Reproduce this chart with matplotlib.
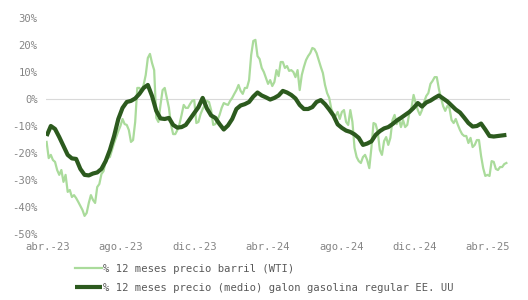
import matplotlib
matplotlib.use("Agg")
import matplotlib.pyplot as plt
import pandas as pd

# % change over 12 months
start_date = "2023-03-31"

# WTI barrel price: twice-weekly observations
wti_pct = [
    -15.9, -21.9, -20.7, -22.6, -23.3, -26.3, -28.1, -26.3, -30.7, -28.1,
    -34.4, -33.7, -36.3, -35.6, -36.7, -38.1, -39.6, -41.1, -43.3, -42.2,
    -38.5, -35.6, -37.4, -38.5, -32.6, -31.5, -27.8, -26.7, -23.0, -21.9,
    -21.5, -18.9, -16.3, -14.1, -11.9, -10.0, -7.4, -9.3, -9.6, -11.5,
    -15.9, -15.2, -8.5, 4.1, 4.1, 3.0, 5.2, 8.9, 15.2, 16.7,
    13.3, 10.7, -7.0, -8.5, -2.2, 3.3, 4.1, 0.4, -3.3, -9.6,
    -13.0, -13.0, -11.5, -9.3, -5.9, -2.2, -3.3, -3.3, -1.9, -0.7,
    -0.4, -8.9, -8.5, -5.6, -3.7, -2.2, -0.7, -1.1, -4.1, -9.6,
    -9.3, -7.8, -5.9, -3.3, -1.5, -1.9, -2.2, -0.7, 0.4, 1.9,
    3.3, 5.2, 3.0, 1.9, 4.1, 4.1, 7.0, 16.3, 21.5, 21.9,
    15.9, 14.8, 11.5, 10.0, 7.8, 5.6, 7.0, 4.8, 6.3, 10.7,
    8.5, 13.7, 13.7, 11.5, 12.2, 10.4, 10.7, 10.0, 8.1, 10.7,
    3.3, 8.9, 11.9, 14.4, 15.9, 17.0, 18.9, 18.5, 17.0, 14.4,
    11.9, 9.6, 5.2, 2.2, 0.4, -3.7, -5.6, -6.3, -4.8, -7.4,
    -4.8, -4.1, -8.5, -9.6, -4.1, -8.5, -18.1, -21.5, -23.0, -23.7,
    -21.5, -20.7, -22.6, -25.6, -18.1, -8.9, -9.3, -12.2, -18.9, -20.7,
    -15.6, -14.1, -17.0, -14.4, -7.8, -5.9, -9.3, -7.0, -10.4, -7.8,
    -10.4, -9.6, -5.2, -3.3, 1.5, -1.5, -4.1, -5.9, -4.1, -1.1,
    1.1, 2.2, 5.6, 6.7, 8.1, 8.1, 3.7, 0.4, -2.6, -4.4,
    -2.6, -3.3, -7.8, -8.9, -7.4, -9.6, -11.5, -13.0, -13.7, -13.7,
    -16.3, -14.4, -17.8, -17.0, -15.2, -15.2, -21.1, -25.6, -28.5, -28.1,
    -28.5, -23.0, -23.3, -25.9, -26.3, -25.2, -25.2, -24.1,
    -23.7,
]

# US regular gasoline (average) price per gallon: weekly observations
gasoline_pct = [
    -13.7, -10.0, -11.1, -14.1, -17.4, -20.7, -22.0, -22.2, -25.9, -28.1,
    -28.3, -27.6, -27.2, -25.9, -23.0, -18.9, -13.7, -7.4, -3.3, -1.1,
    -0.7, 0.2, 1.9, 4.1, 5.2, 1.1, -4.4, -7.2, -7.4, -7.0,
    -9.6, -10.6, -10.4, -9.6, -7.4, -5.2, -3.0, 0.4, -3.5, -6.1,
    -7.0, -9.3, -11.3, -9.8, -7.4, -3.7, -2.4, -1.9, -1.1, 0.9,
    2.4, 1.3, 0.6, -0.2, 0.4, 1.3, 3.0, 2.4, 1.5, 0.2,
    -2.2, -3.7, -3.7, -3.0, -1.1, -0.4, -1.9, -3.9, -6.1, -9.4,
    -10.7, -11.7, -12.2, -13.1, -14.4, -17.0, -16.5, -15.7, -13.3, -11.9,
    -10.9, -10.4, -9.3, -8.0, -7.0, -5.9, -4.8, -3.3, -1.5, -2.8,
    -1.3, -0.6, 0.4, 1.3, 0.2, -0.9, -2.4, -3.9, -5.0, -6.9,
    -8.9, -10.2, -10.0, -9.1, -11.3, -13.7, -13.9, -13.7, -13.5, -13.3,
]

tick_dates = ["2023-04-01", "2023-08-01", "2023-12-01", "2024-04-01",
              "2024-08-01", "2024-12-01", "2025-04-01"]
tick_labels = ["abr.-23", "ago.-23", "dic.-23", "abr.-24",
               "ago.-24", "dic.-24", "abr.-25"]
y_ticks = [-50, -40, -30, -20, -10, 0, 10, 20, 30]

series_names = ["% 12 meses precio barril (WTI)",
                "% 12 meses precio (medio) galon gasolina regular EE. UU"]

wti_dates = pd.date_range(start_date, periods=len(wti_pct), freq="84h")
gas_dates = pd.date_range(start_date, periods=len(gasoline_pct), freq="7D")

LIGHT = "#aadb9b"
DARK = "#2c5a1e"
TICK_COLOR = "#858585"
LEG_COLOR = "#595959"
FONT = "DejaVu Sans Mono"

fig = plt.figure(figsize=(5.28, 3.0), dpi=100)
ax = fig.add_axes([46 / 528, 66 / 300, 464 / 528, 216 / 300])

ax.axhline(0, color="#d9d9d9", lw=0.8, zorder=1)
l1, = ax.plot(wti_dates, wti_pct, color=LIGHT, lw=1.6, zorder=2, label=series_names[0])
l2, = ax.plot(gas_dates, gasoline_pct, color=DARK, lw=3.0, zorder=3, label=series_names[1],
              solid_capstyle="butt")

ax.set_ylim(-50, 30)
ax.set_yticks(y_ticks)
ax.set_yticklabels([f"{v}%" for v in y_ticks], family=FONT, fontsize=7.6, color=TICK_COLOR)
ax.set_xlim(pd.Timestamp("2023-03-30"), pd.Timestamp("2025-05-08"))
ax.set_xticks(pd.to_datetime(tick_dates))
ax.set_xticklabels(tick_labels, family=FONT, fontsize=7.6, color=TICK_COLOR)
ax.tick_params(axis="both", length=0)
ax.tick_params(axis="y", pad=6)
ax.tick_params(axis="x", pad=6)
for s in ax.spines.values():
    s.set_visible(False)

leg = fig.legend(handles=[l1, l2], loc="center", bbox_to_anchor=(0.5, 0.073),
                 frameon=False, ncol=1, handlelength=2.6, handletextpad=0.05,
                 labelspacing=0.85, prop={"family": FONT, "size": 7.6})
for t in leg.get_texts():
    t.set_color(LEG_COLOR)

fig.savefig("out.png", dpi=100, facecolor="white")
